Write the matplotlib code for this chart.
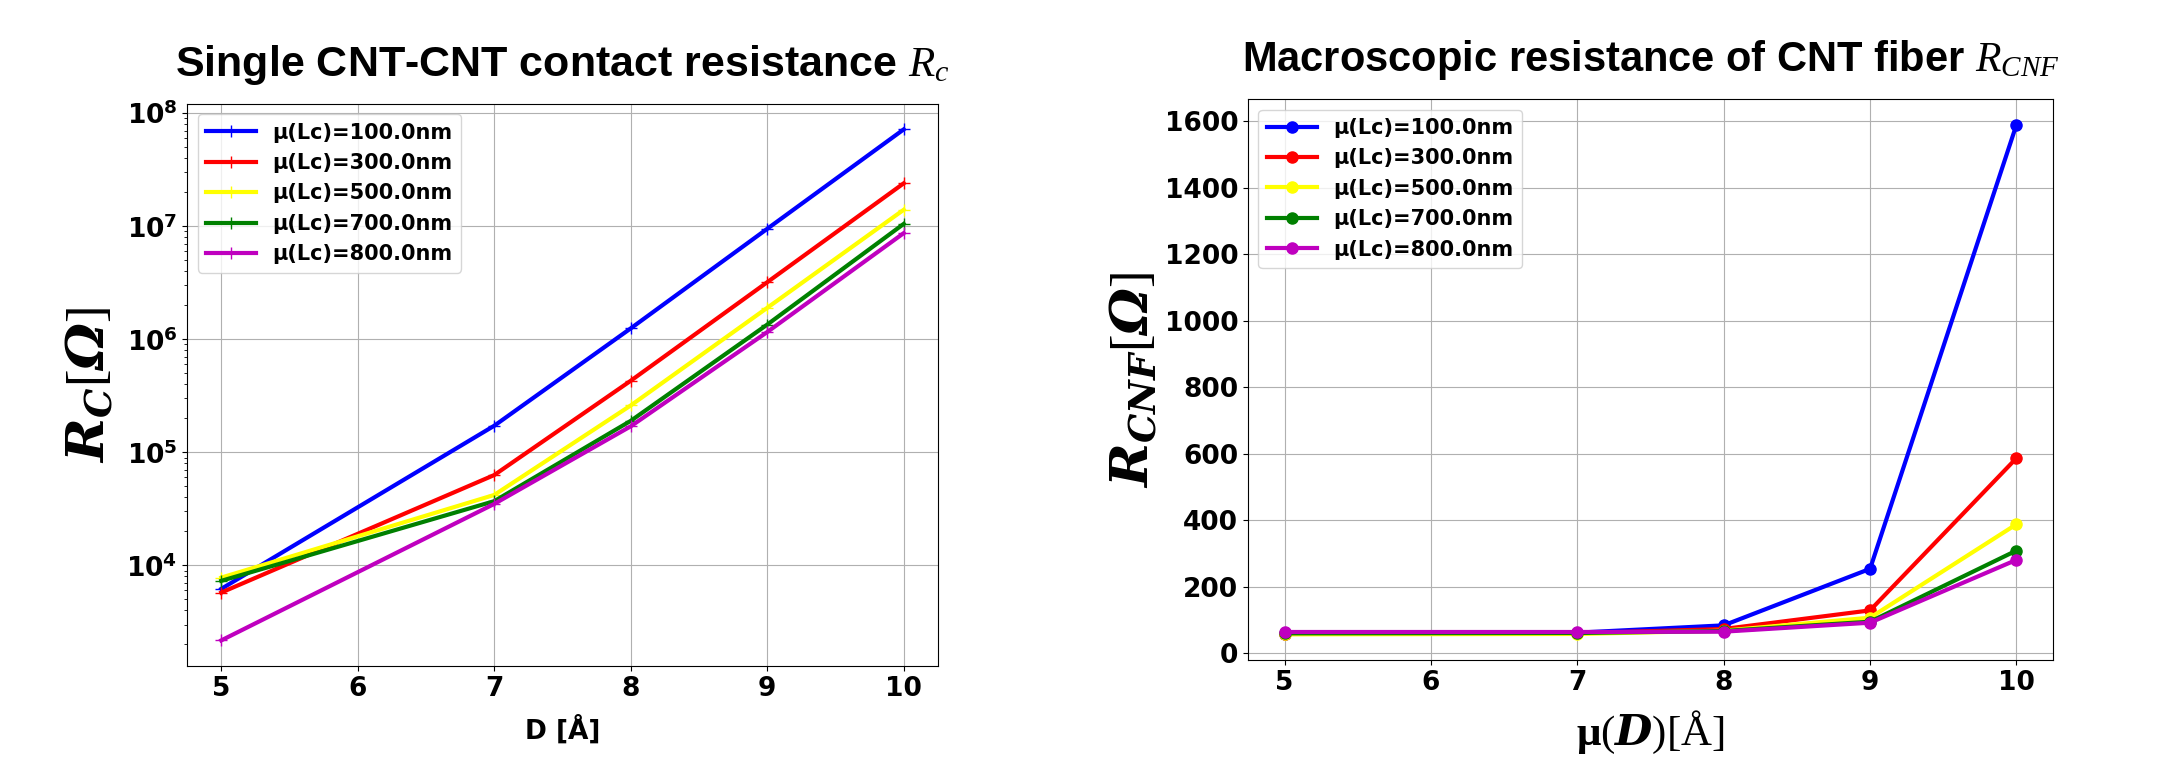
import matplotlib
matplotlib.use("Agg")
import matplotlib.pyplot as plt

# datos
D = [5, 7, 8, 9, 10]
etiquetas = ["μ(Lc)=100.0nm", "μ(Lc)=300.0nm", "μ(Lc)=500.0nm", "μ(Lc)=700.0nm", "μ(Lc)=800.0nm"]
colores = ["blue", "red", "yellow", "green", "m"]

rc_100 = [6.2e3, 1.72e5, 1.25e6, 9.5e6, 7.2e7]
rc_300 = [5.75e3, 6.3e4, 4.3e5, 3.2e6, 2.4e7]
rc_500 = [7.8e3, 4.2e4, 2.6e5, 1.9e6, 1.4e7]
rc_700 = [7.3e3, 3.7e4, 1.9e5, 1.35e6, 1.05e7]
rc_800 = [2.17e3, 3.5e4, 1.7e5, 1.16e6, 8.7e6]

rcnf_100 = [59, 62, 84, 254, 1590]
rcnf_300 = [58, 60, 73, 129, 587]
rcnf_500 = [57, 58, 68, 107, 388]
rcnf_700 = [60, 61, 67, 95, 309]
rcnf_800 = [64, 64, 65, 92, 281]

plt.rcParams['mathtext.fontset'] = 'custom'
plt.rcParams['mathtext.it'] = 'Liberation Serif:italic'
plt.rcParams['mathtext.bf'] = 'DejaVu Serif:italic:bold'
plt.rcParams['mathtext.rm'] = 'Liberation Serif'
plt.rcParams['mathtext.sf'] = 'Liberation Serif:bold'

fuente_titulo = ['Liberation Sans Narrow', 'Liberation Sans']

fig = plt.figure(figsize=(21.76, 7.69), dpi=100)
ax1 = fig.add_axes([0.086, 0.134, 0.345, 0.731])
ax2 = fig.add_axes([0.5735, 0.142, 0.370, 0.729])

series_rc = [rc_100, rc_300, rc_500, rc_700, rc_800]
series_rcnf = [rcnf_100, rcnf_300, rcnf_500, rcnf_700, rcnf_800]

for valores, color, etiqueta in zip(series_rc, colores, etiquetas):
    ax1.plot(D, valores, marker='+', markersize=9, lw=3, color=color, label=etiqueta)
ax1.set_yscale('log')
ax1.set_xticks([5, 6, 7, 8, 9, 10])
ax1.grid(True)
ax1.set_xlabel('D [Å]', fontsize=19, fontweight='bold', labelpad=10)
ax1.set_ylabel(r'$\mathbf{R_C}\mathrm{[}\mathbf{\Omega}\mathrm{]}$', fontsize=38, labelpad=8)
ax1.set_title(r'Single CNT-CNT contact resistance $R_c$', fontsize=31, fontweight='bold',
              family=fuente_titulo, pad=20)
ax1.legend(loc='upper left', prop={'weight': 'bold', 'size': 15}, handlelength=2.4)

for valores, color, etiqueta in zip(series_rcnf, colores, etiquetas):
    ax2.plot(D, valores, marker='o', markersize=8, lw=3, color=color, label=etiqueta)
ax2.set_xticks([5, 6, 7, 8, 9, 10])
ax2.set_yticks(range(0, 1601, 200))
ax2.grid(True)
ax2.set_xlabel(r'$\mathsf{\mu}(\mathbf{D})\mathrm{[Å]}$', fontsize=31, labelpad=10)
ax2.set_ylabel(r'$\mathbf{R_{CNF}}\mathrm{[}\mathbf{\Omega}\mathrm{]}$', fontsize=38)
ax2.set_title(r'Macroscopic resistance of CNT fiber $R_{CNF}$', fontsize=30, fontweight='bold',
              family=fuente_titulo, pad=20)
ax2.legend(loc='upper left', prop={'weight': 'bold', 'size': 15}, handlelength=2.4)

for ax in [ax1, ax2]:
    for lbl in ax.get_xticklabels() + ax.get_yticklabels():
        lbl.set_fontweight('bold')
        lbl.set_fontsize(19)

fig.savefig('out.png', dpi=100)
